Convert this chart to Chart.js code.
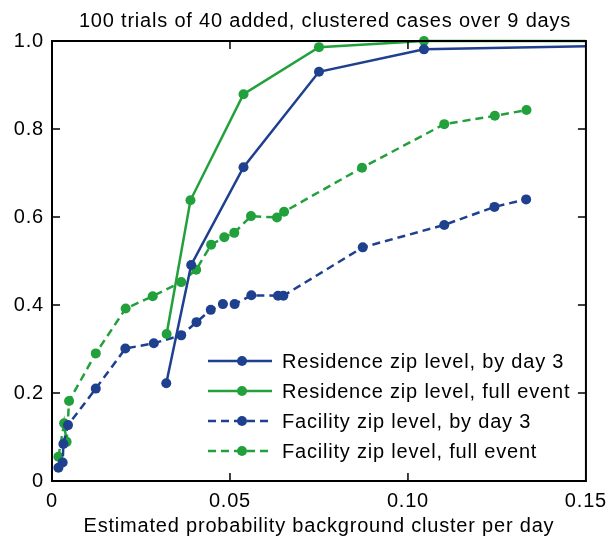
<!DOCTYPE html>
<html>
<head>
<meta charset="utf-8">
<script src="https://cdn.jsdelivr.net/npm/chart.js@4"></script>
<style>
  html, body { margin: 0; padding: 0; background: #fff; }
  #wrap { width: 615px; height: 540px; position: relative; }
</style>
</head>
<body>
<div id="wrap"><canvas id="chart"></canvas></div>
<script>
// data
const chartTitle = '100 trials of 40 added, clustered cases over 9 days';
const xTitle = 'Estimated probability background cluster per day';
const xTicks = [0, 0.05, 0.10, 0.15];
const xTickLabels = ['0', '0.05', '0.10', '0.15'];
const yTicks = [0, 0.2, 0.4, 0.6, 0.8, 1.0];
const yTickLabels = ['0', '0.2', '0.4', '0.6', '0.8', '1.0'];

const seriesNames = [
    'Residence zip level, by day 3',
    'Residence zip level, full event',
    'Facility zip level, by day 3',
    'Facility zip level, full event'
];

const resDay3X = [0.0321, 0.0391, 0.0538, 0.0750, 0.1045, 0.1500];
const resDay3Y = [0.222, 0.491, 0.713, 0.930, 0.981, 0.988];

const resFullX = [0.0322, 0.0389, 0.0538, 0.0750, 0.1045, 0.1500];
const resFullY = [0.334, 0.638, 0.879, 0.986, 1.000, 1.000];

const facDay3X = [0.0018, 0.0030, 0.0032, 0.0045, 0.0123, 0.0206, 0.0286, 0.0363, 0.0406, 0.0446, 0.0480, 0.0513, 0.0560, 0.0635, 0.0650, 0.0873, 0.1102, 0.1243, 0.1332];
const facDay3Y = [0.030, 0.042, 0.084, 0.127, 0.210, 0.301, 0.313, 0.331, 0.361, 0.389, 0.402, 0.402, 0.422, 0.421, 0.421, 0.531, 0.582, 0.623, 0.640];

const facFullX = [0.0018, 0.0034, 0.0041, 0.0048, 0.0123, 0.0207, 0.0283, 0.0363, 0.0405, 0.0447, 0.0484, 0.0512, 0.0559, 0.0632, 0.0652, 0.0871, 0.1102, 0.1244, 0.1333];
const facFullY = [0.055, 0.131, 0.089, 0.182, 0.290, 0.392, 0.420, 0.452, 0.480, 0.537, 0.554, 0.564, 0.602, 0.599, 0.612, 0.712, 0.811, 0.830, 0.843];

const BLUE = '#1f3f8f';
const GREEN = '#22a03c';
const FONT = '"Liberation Sans", Arial, sans-serif';
const FSIZE = 20;
const SPACING = '0.8px';
const DASH = [8, 5];

function pts(xs, ys) {
    return xs.map((x, i) => ({ x: x, y: ys[i] }));
}

// last point of the residence lines sits on the right edge: no marker there
function radii(n, lastHidden) {
    const r = new Array(n).fill(5);
    if (lastHidden) r[n - 1] = 0;
    return r;
}

const series = [
    { xs: resDay3X, ys: resDay3Y, color: BLUE, dash: [], edge: true },
    { xs: resFullX, ys: resFullY, color: GREEN, dash: [], edge: true },
    { xs: facDay3X, ys: facDay3Y, color: BLUE, dash: DASH, edge: false },
    { xs: facFullX, ys: facFullY, color: GREEN, dash: DASH, edge: false }
];

const datasets = series.map((s, i) => ({
    label: seriesNames[i],
    data: pts(s.xs, s.ys),
    borderColor: s.color,
    backgroundColor: s.color,
    pointBackgroundColor: s.color,
    pointBorderWidth: 0,
    pointRadius: radii(s.xs.length, s.edge),
    borderWidth: 2.5,
    borderDash: s.dash,
    tension: 0,
    clip: 6
}));

// slightly looser text, like the reference
const spacingPlugin = {
    id: 'spacing',
    beforeInit(chart) { chart.ctx.letterSpacing = SPACING; },
    beforeLayout(chart) { chart.ctx.letterSpacing = SPACING; },
    beforeDraw(chart) { chart.ctx.letterSpacing = SPACING; }
};

// frame, inward ticks, title and in-plot legend
const framePlugin = {
    id: 'frame',
    afterDraw(chart) {
        const ctx = chart.ctx;
        const a = chart.chartArea;
        const xs = chart.scales.x, ys = chart.scales.y;
        ctx.save();
        ctx.letterSpacing = SPACING;
        ctx.strokeStyle = '#000';
        ctx.lineWidth = 2;
        ctx.setLineDash([]);
        ctx.strokeRect(a.left, a.top, a.right - a.left, a.bottom - a.top);
        ctx.lineWidth = 1.5;
        const tl = 8;
        xTicks.slice(1, -1).forEach(v => {
            const px = xs.getPixelForValue(v);
            ctx.beginPath();
            ctx.moveTo(px, a.bottom); ctx.lineTo(px, a.bottom - tl);
            ctx.moveTo(px, a.top); ctx.lineTo(px, a.top + tl);
            ctx.stroke();
        });
        yTicks.slice(1, -1).forEach(v => {
            const py = ys.getPixelForValue(v);
            ctx.beginPath();
            ctx.moveTo(a.left, py); ctx.lineTo(a.left + tl, py);
            ctx.moveTo(a.right, py); ctx.lineTo(a.right - tl, py);
            ctx.stroke();
        });

        // title
        ctx.fillStyle = '#000';
        ctx.font = FSIZE + 'px ' + FONT;
        ctx.textAlign = 'center';
        ctx.textBaseline = 'middle';
        ctx.fillText(chartTitle, 325, 21);

        // legend
        const lx = 208, lw = 64, ly0 = 361, step = 30;
        ctx.textAlign = 'left';
        chart.data.datasets.forEach((ds, i) => {
            const y = ly0 + i * step;
            ctx.strokeStyle = ds.borderColor;
            ctx.lineWidth = 2.5;
            ctx.setLineDash(ds.borderDash);
            ctx.beginPath();
            ctx.moveTo(lx, y); ctx.lineTo(lx + lw, y);
            ctx.stroke();
            ctx.setLineDash([]);
            ctx.fillStyle = ds.borderColor;
            ctx.beginPath();
            ctx.arc(lx + lw / 2 + 2, y, 5, 0, Math.PI * 2);
            ctx.fill();
            ctx.fillStyle = '#000';
            ctx.font = FSIZE + 'px ' + FONT;
            ctx.fillText(ds.label, 282, y + 1);
        });
        ctx.restore();
    }
};

new Chart(document.getElementById('chart'), {
    type: 'line',
    data: { datasets: datasets },
    plugins: [spacingPlugin, framePlugin],
    options: {
        responsive: true,
        maintainAspectRatio: false,
        animation: false,
        layout: { padding: { left: 0, right: 27, top: 41, bottom: 0 } },
        plugins: {
            legend: { display: false },
            tooltip: { enabled: false }
        },
        scales: {
            x: {
                type: 'linear',
                min: 0,
                max: 0.15,
                afterBuildTicks(scale) { scale.ticks = xTicks.map(v => ({ value: v })); },
                afterFit(scale) { scale.height = 59; },
                ticks: {
                    color: '#000',
                    font: { family: FONT, size: FSIZE },
                    padding: 8,
                    maxRotation: 0,
                    callback: (v) => xTickLabels[xTicks.indexOf(v)]
                },
                grid: { display: false, drawTicks: false },
                border: { display: false },
                title: {
                    display: true,
                    text: xTitle,
                    color: '#000',
                    font: { family: FONT, size: FSIZE },
                    padding: { top: 0, bottom: 2 }
                }
            },
            y: {
                min: 0,
                max: 1,
                afterBuildTicks(scale) { scale.ticks = yTicks.map(v => ({ value: v })); },
                afterFit(scale) { scale.width = 52; },
                ticks: {
                    color: '#000',
                    font: { family: FONT, size: FSIZE },
                    padding: 8,
                    callback: (v) => yTickLabels[yTicks.indexOf(v)]
                },
                grid: { display: false, drawTicks: false },
                border: { display: false }
            }
        }
    }
});
</script>
</body>
</html>
